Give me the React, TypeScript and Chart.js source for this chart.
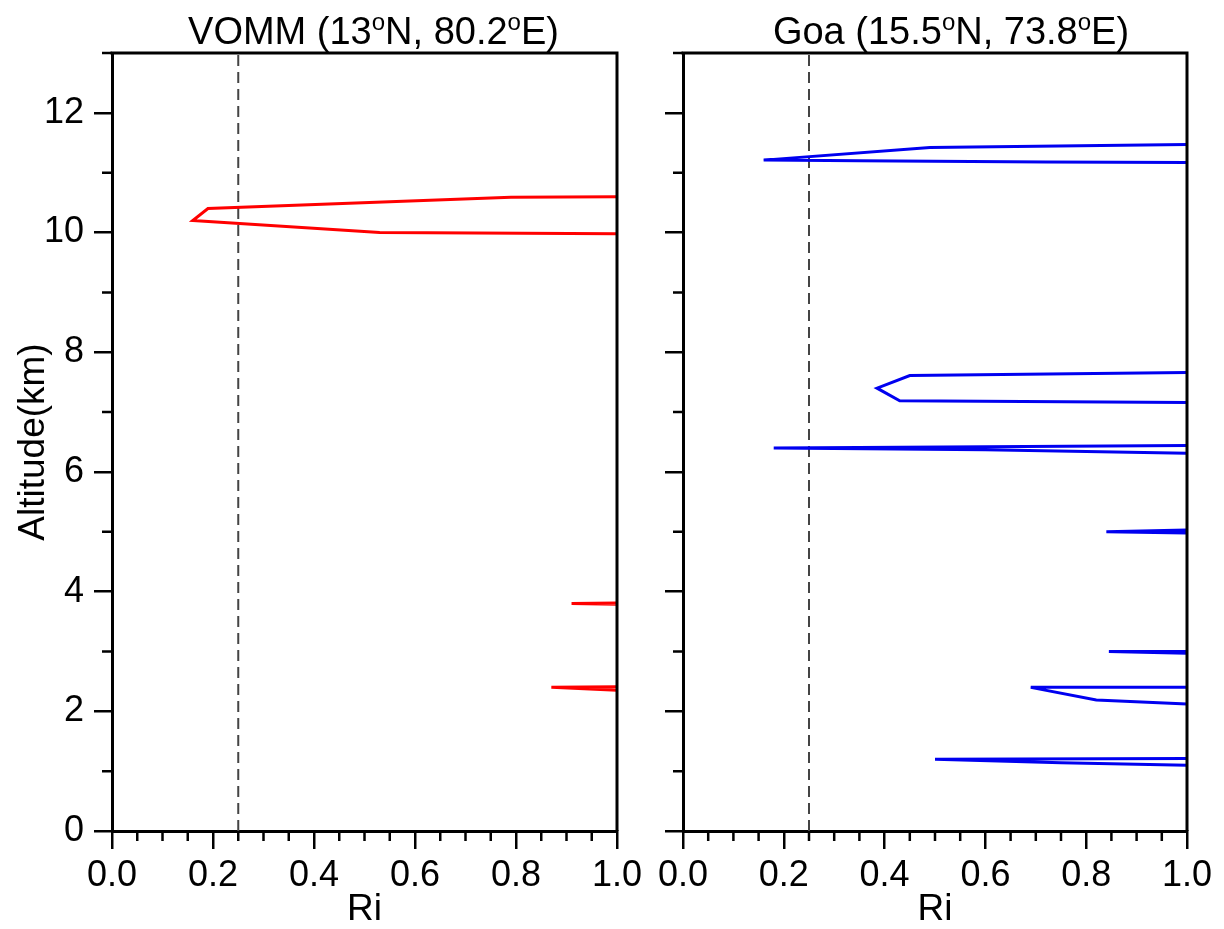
import React, { useEffect, useRef } from 'react';
import { Chart, registerables } from 'chart.js';

Chart.register(...registerables);

// ---- Data (Ri vs altitude, km) ----
const criticalRi = 0.25;
const altitudeRange = [0, 13];
const riRange = [0, 1];

// VOMM (red)
const vommUpperRi = [1.0, 0.53, 0.16, 0.19, 0.79, 1.0];
const vommUpperAlt = [9.98, 10.0, 10.2, 10.4, 10.59, 10.6];
const vommMidRi = [1.0, 0.91, 1.0];
const vommMidAlt = [3.79, 3.8, 3.81];
const vommLowRi = [1.0, 0.87, 1.0];
const vommLowAlt = [2.35, 2.4, 2.41];

// Goa (blue)
const goa11Ri = [1.0, 0.72, 0.35, 0.16, 0.49, 1.0];
const goa11Alt = [11.17, 11.18, 11.2, 11.21, 11.42, 11.47];
const goa74Ri = [1.0, 0.43, 0.385, 0.45, 1.0];
const goa74Alt = [7.16, 7.19, 7.4, 7.61, 7.66];
const goa64Ri = [1.0, 0.6, 0.18, 0.6, 1.0];
const goa64Alt = [6.31, 6.37, 6.4, 6.42, 6.44];
const goa50Ri = [1.0, 0.84, 1.0];
const goa50Alt = [4.98, 5.0, 5.03];
const goa30Ri = [1.0, 0.845, 1.0];
const goa30Alt = [2.97, 3.0, 3.0];
const goa24Ri = [1.0, 0.82, 0.69, 1.0];
const goa24Alt = [2.12, 2.19, 2.4, 2.4];
const goa12Ri = [1.0, 0.75, 0.5, 1.0];
const goa12Alt = [1.1, 1.14, 1.2, 1.21];

const vommSegments = [
  [vommUpperRi, vommUpperAlt],
  [vommMidRi, vommMidAlt],
  [vommLowRi, vommLowAlt],
];
const goaSegments = [
  [goa11Ri, goa11Alt],
  [goa74Ri, goa74Alt],
  [goa64Ri, goa64Alt],
  [goa50Ri, goa50Alt],
  [goa30Ri, goa30Alt],
  [goa24Ri, goa24Alt],
  [goa12Ri, goa12Alt],
];

const vommTitle = [
  { t: 'VOMM (13', sup: false },
  { t: 'o', sup: true },
  { t: 'N, 80.2', sup: false },
  { t: 'o', sup: true },
  { t: 'E)', sup: false },
];
const goaTitle = [
  { t: 'Goa (15.5', sup: false },
  { t: 'o', sup: true },
  { t: 'N, 73.8', sup: false },
  { t: 'o', sup: true },
  { t: 'E)', sup: false },
];

const FONT = "'Liberation Sans', Arial, sans-serif";

const framePlugin = {
  id: 'frameMinor',
  afterDraw(chart: any, _args: any, opts: any) {
    const { ctx, chartArea: a, scales } = chart;
    ctx.save();
    ctx.strokeStyle = '#000';
    ctx.lineWidth = 3;
    ctx.beginPath();
    ctx.moveTo(a.left - 1.5, a.top);
    ctx.lineTo(a.right, a.top);
    ctx.lineTo(a.right, a.bottom);
    ctx.stroke();

    // minor ticks
    ctx.lineWidth = 2.5;
    ctx.beginPath();
    const xs = scales.x;
    for (let i = 1; i < 20; i++) {
      if (i % 4 === 0) continue;
      const px = xs.getPixelForValue(i * 0.05);
      ctx.moveTo(px, a.bottom);
      ctx.lineTo(px, a.bottom + 10);
    }
    const ys = scales.y;
    for (let v = 1; v <= 13; v += 2) {
      const py = ys.getPixelForValue(v);
      ctx.moveTo(a.left, py);
      ctx.lineTo(a.left - 10, py);
    }
    ctx.stroke();

    // title with superscripts
    const parts = opts.parts || [];
    const mainFont = `38px ${FONT}`;
    const supFont = `24px ${FONT}`;
    let total = 0;
    for (const p of parts) {
      ctx.font = p.sup ? supFont : mainFont;
      total += ctx.measureText(p.t).width;
    }
    let x = (a.left + a.right) / 2 + (opts.dx || 0) - total / 2;
    const base = 44;
    ctx.fillStyle = '#000';
    ctx.textBaseline = 'alphabetic';
    ctx.textAlign = 'left';
    for (const p of parts) {
      ctx.font = p.sup ? supFont : mainFont;
      ctx.fillText(p.t, x, p.sup ? base - 14 : base);
      x += ctx.measureText(p.t).width;
    }
    ctx.restore();
  },
};

function makeConfig(segments: any[], color: string, showY: boolean, yWidth: number, padRight: number, parts: any[], dx: number) {
  const datasets: any[] = segments.map(([ri, alt]) => ({
    data: ri.map((r: number, i: number) => ({ x: r, y: alt[i] })),
    borderColor: color,
    backgroundColor: color,
    borderWidth: 3,
    pointRadius: 0,
    showLine: true,
    tension: 0,
  }));
  datasets.push({
    data: [
      { x: criticalRi, y: altitudeRange[0] },
      { x: criticalRi, y: altitudeRange[1] },
    ],
    borderColor: '#444',
    borderWidth: 2,
    borderDash: [11, 6],
    pointRadius: 0,
    showLine: true,
  });
  return {
    type: 'scatter',
    data: { datasets },
    plugins: [framePlugin],
    options: {
      animation: false,
      responsive: false,
      layout: { padding: { left: 0, top: 53, right: padRight, bottom: 0 } },
      plugins: {
        legend: { display: false },
        tooltip: { enabled: false },
        frameMinor: { parts, dx },
      },
      scales: {
        x: {
          type: 'linear',
          min: riRange[0],
          max: riRange[1],
          afterFit: (axis: any) => { axis.height = 98; },
          border: { display: true, color: '#000', width: 3 },
          grid: { drawOnChartArea: false, drawTicks: true, tickLength: 18, color: '#000', lineWidth: 2.5 },
          ticks: {
            stepSize: 0.2,
            color: '#000',
            font: { family: FONT, size: 36 },
            padding: 5,
            maxRotation: 0,
            callback: (v: number) => Number(v).toFixed(1),
          },
          title: {
            display: true,
            text: 'Ri',
            color: '#000',
            font: { family: FONT, size: 37, lineHeight: 1 },
            padding: { top: 0, bottom: 1 },
          },
        },
        y: {
          type: 'linear',
          min: altitudeRange[0],
          max: altitudeRange[1],
          afterFit: (axis: any) => { axis.width = yWidth; },
          border: { display: true, color: '#000', width: 3 },
          grid: { drawOnChartArea: false, drawTicks: true, tickLength: 18, color: '#000', lineWidth: 2.5 },
          ticks: {
            stepSize: 2,
            includeBounds: false,
            display: showY,
            color: '#000',
            font: { family: FONT, size: 36 },
            padding: 10,
            callback: (v: number) => String(v),
          },
          title: {
            display: showY,
            text: 'Altitude(km)',
            color: '#000',
            font: { family: FONT, size: 37, lineHeight: 1 },
            padding: { top: 15, bottom: 0 },
          },
        },
      },
    },
  };
}

export default function App() {
  const leftRef = useRef<HTMLCanvasElement>(null);
  const rightRef = useRef<HTMLCanvasElement>(null);

  useEffect(() => {
    const c1 = new Chart(leftRef.current as any, makeConfig(vommSegments, '#ff0000', true, 112, 43, vommTitle, 9) as any);
    const c2 = new Chart(rightRef.current as any, makeConfig(goaSegments, '#0000f0', false, 83, 37, goaTitle, 16) as any);
    return () => {
      c1.destroy();
      c2.destroy();
    };
  }, []);

  return (
    <div style={{ position: 'fixed', left: 0, top: 0, width: 1224, height: 929, background: '#fff' }}>
      <canvas ref={leftRef} width={660} height={929} style={{ position: 'absolute', left: 0, top: 0 }} />
      <canvas ref={rightRef} width={624} height={929} style={{ position: 'absolute', left: 600, top: 0 }} />
    </div>
  );
}
